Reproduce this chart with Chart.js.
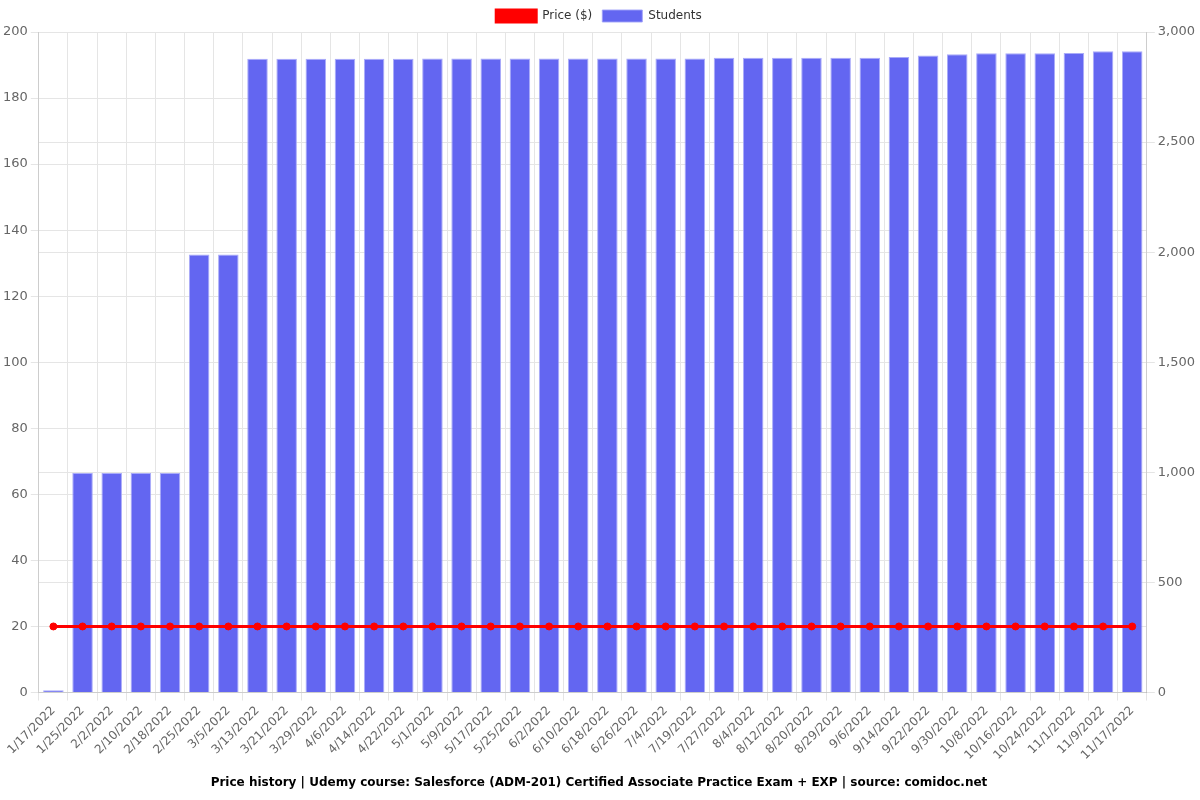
<!DOCTYPE html>
<html>
<head>
<meta charset="utf-8">
<script src="https://cdn.jsdelivr.net/npm/chart.js@4"></script>
<style>
  html, body { margin: 0; padding: 0; background: #fff; }
  #wrap { width: 1200px; height: 800px; }
</style>
</head>
<body>
<div id="wrap"><canvas id="chart"></canvas></div>
<script>
// dates of the price snapshots
const labels = [
    '1/17/2022', '1/25/2022', '2/2/2022', '2/10/2022', '2/18/2022', '2/25/2022', '3/5/2022',
    '3/13/2022', '3/21/2022', '3/29/2022', '4/6/2022', '4/14/2022', '4/22/2022', '5/1/2022',
    '5/9/2022', '5/17/2022', '5/25/2022', '6/2/2022', '6/10/2022', '6/18/2022', '6/26/2022',
    '7/4/2022', '7/19/2022', '7/27/2022', '8/4/2022', '8/12/2022', '8/20/2022', '8/29/2022',
    '9/6/2022', '9/14/2022', '9/22/2022', '9/30/2022', '10/8/2022', '10/16/2022', '10/24/2022',
    '11/1/2022', '11/9/2022', '11/17/2022'
];

// price in dollars
const price = [
    20, 20, 20, 20, 20, 20, 20, 20, 20, 20, 20, 20, 20, 20, 20, 20, 20, 20, 20,
    20, 20, 20, 20, 20, 20, 20, 20, 20, 20, 20, 20, 20, 20, 20, 20, 20, 20, 20
];

// enrolled students
const students = [
    10, 997, 997, 997, 997, 1989, 1989,
    2878, 2878, 2878, 2878, 2878, 2878, 2880,
    2880, 2880, 2880, 2880, 2880, 2880, 2880,
    2880, 2880, 2883, 2883, 2883, 2883, 2883,
    2883, 2886, 2893, 2899, 2903, 2904, 2904,
    2905, 2912, 2913
];

const priceTicks = [0, 20, 40, 60, 80, 100, 120, 140, 160, 180, 200];
const studentTicks = [0, 500, 1000, 1500, 2000, 2500, 3000];

Chart.defaults.font.family = '"DejaVu Sans", sans-serif';
Chart.defaults.font.size = 12;
Chart.defaults.color = '#666';

const ctx = document.getElementById('chart');
new Chart(ctx, {
    type: 'bar',
    data: {
        labels: labels,
        datasets: [{
                type: 'line',
                label: 'Price ($)',
                data: price,
                yAxisID: 'y',
                borderColor: '#ff0000',
                backgroundColor: '#ff0000',
                borderWidth: 3,
                pointRadius: 3.5,
                pointBorderWidth: 1,
                pointBorderColor: '#ff0000',
                pointBackgroundColor: '#ff0000',
                tension: 0,
                fill: false,
                order: 0,
            },
            {
                type: 'bar',
                label: 'Students',
                data: students,
                yAxisID: 'y1',
                backgroundColor: '#6366f1',
                borderColor: 'rgba(160,162,248,0.9)',
                borderWidth: 1,
                categoryPercentage: 0.8,
                barPercentage: 0.88,
                order: 1,
            },
        ],
    },
    options: {
        responsive: true,
        maintainAspectRatio: false,
        animation: false,
        layout: {
            padding: { left: 0, right: 2, top: 0, bottom: 6 },
        },
        scales: {
            x: {
                grid: {
                    color: '#e5e5e5',
                    offset: true,
                },
                ticks: {
                    maxRotation: 45,
                    minRotation: 45,
                    autoSkip: false,
                    color: '#666',
                },
            },
            y: {
                position: 'left',
                min: 0,
                max: 200,
                afterBuildTicks: (axis) => {
                    axis.ticks = priceTicks.map(v => ({ value: v }));
                },
                grid: { color: '#e5e5e5' },
                ticks: { color: '#666', font: { size: 13 } },
            },
            y1: {
                position: 'right',
                min: 0,
                max: 3000,
                afterBuildTicks: (axis) => {
                    axis.ticks = studentTicks.map(v => ({ value: v }));
                },
                grid: { color: '#e5e5e5' },
                ticks: {
                    color: '#666',
                    font: { size: 13 },
                    callback: (v) => v.toLocaleString('en-US'),
                },
            },
        },
        plugins: {
            legend: {
                display: true,
                position: 'top',
                labels: {
                    boxWidth: 40,
                    boxHeight: 12,
                    color: '#333',
                    padding: 10,
                },
            },
            title: {
                display: true,
                position: 'bottom',
                text: 'Price history | Udemy course: Salesforce (ADM-201) Certified Associate Practice Exam + EXP | source: comidoc.net',
                color: '#000',
                font: { size: 12, weight: 'bold' },
                padding: { top: 10, bottom: 4 },
            },
            tooltip: { enabled: false },
        },
    },
});
</script>
</body>
</html>
